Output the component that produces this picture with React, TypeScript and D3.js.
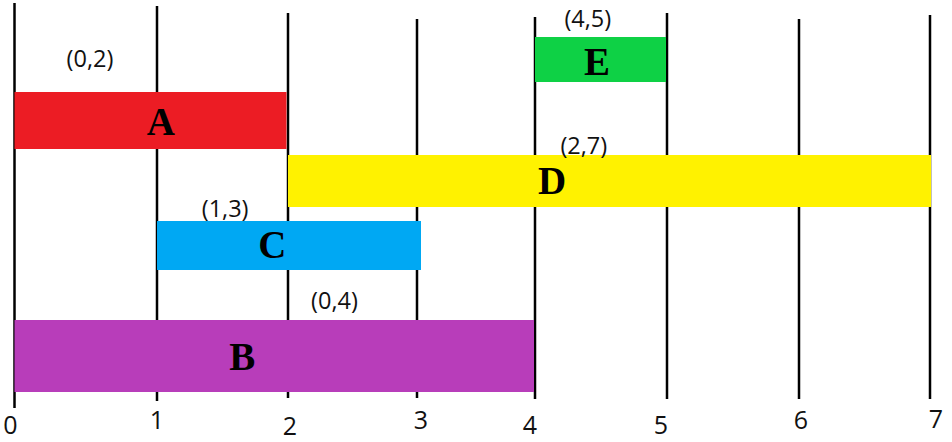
import { useEffect, useRef } from 'react'
import * as d3 from 'd3'

// Interval data
const names = ['A', 'B', 'C', 'D', 'E']
const starts = [0, 0, 1, 2, 4]
const ends = [2, 4, 3, 7, 5]
const colors = ['#EC1C24', '#B83DBA', '#00A8F3', '#FFF200', '#0ED145']
const ticks = [0, 1, 2, 3, 4, 5, 6, 7]

// Layout of the hand drawn picture
const gridX = [14.5, 157, 288, 417, 535, 667, 799, 930]
const gridTop = [3, 6, 13, 19, 17, 13, 19, 15]
const gridBottom = [408, 401, 398, 398, 399, 399, 399, 399]
const tickNudgeX = [-4, 0, 2, 4, -5, -6, 2, 6]
const tickBaseline = [434, 429, 435, 429, 434, 434, 429, 428]
const rowOrder = ['E', 'A', 'D', 'C', 'B']
const rowTop = [37, 92, 155, 221, 320]
const rowBottom = [82, 149, 207, 270, 392]
// bars are drawn a little past / short of their grid line
const endNudge = [-1.5, -1, 4, 1, -1]
// letter / pair label positions in axis units, pair label baseline offset above bar top
const letterAt = [1.03, 1.65, 1.88, 4.13, 4.47]
const letterDrop = [43, 50, 37, 39, 38]
const pairAt = [0.53, 2.36, 1.52, 4.37, 4.4]
const pairRise = [25, 11, 4, 1, 10]

export default function App() {
  const svgRef = useRef<SVGSVGElement>(null)

  useEffect(() => {
    document.body.style.margin = '0'
    if (!svgRef.current) return

    const width = 952
    const height = 442

    const svg = d3.select(svgRef.current)
    svg.selectAll('*').remove()
    svg.attr('width', width).attr('height', height)

    svg.append('rect').attr('width', width).attr('height', height).attr('fill', '#FFFFFF')

    const xScale = d3.scaleLinear().domain(ticks).range(gridX)
    const yTop = d3.scaleOrdinal<string, number>().domain(rowOrder).range(rowTop)
    const yBottom = d3.scaleOrdinal<string, number>().domain(rowOrder).range(rowBottom)

    const data = names.map((name, i) => ({
      name,
      start: starts[i],
      end: ends[i],
      color: colors[i],
      endNudge: endNudge[i],
      letterAt: letterAt[i],
      letterDrop: letterDrop[i],
      pairAt: pairAt[i],
      pairRise: pairRise[i]
    }))

    // Vertical grid lines (under the bars)
    svg.selectAll('.grid')
      .data(ticks)
      .enter()
      .append('line')
      .attr('class', 'grid')
      .attr('x1', d => xScale(d))
      .attr('x2', d => xScale(d))
      .attr('y1', (_, i) => gridTop[i])
      .attr('y2', (_, i) => gridBottom[i])
      .attr('stroke', '#000000')
      .attr('stroke-width', 2.5)

    // Bars
    svg.selectAll('.bar')
      .data(data)
      .enter()
      .append('rect')
      .attr('class', 'bar')
      .attr('x', d => xScale(d.start))
      .attr('y', d => yTop(d.name))
      .attr('width', d => xScale(d.end) - xScale(d.start) + d.endNudge)
      .attr('height', d => yBottom(d.name) - yTop(d.name))
      .attr('fill', d => d.color)

    // Tick labels
    svg.selectAll('.tick-label')
      .data(ticks)
      .enter()
      .append('text')
      .attr('class', 'tick-label')
      .attr('x', (d, i) => xScale(d) + tickNudgeX[i])
      .attr('y', (_, i) => tickBaseline[i])
      .attr('text-anchor', 'middle')
      .attr('font-family', '"Open Sans", "Noto Sans", sans-serif')
      .attr('font-size', 25)
      .attr('fill', '#111111')
      .text(d => String(d))

    // Bar letters
    svg.selectAll('.letter')
      .data(data)
      .enter()
      .append('text')
      .attr('class', 'letter')
      .attr('x', d => xScale(d.letterAt))
      .attr('y', d => yTop(d.name) + d.letterDrop)
      .attr('text-anchor', 'middle')
      .attr('font-family', '"Liberation Serif", "DejaVu Serif", serif')
      .attr('font-weight', 'bold')
      .attr('font-size', 39)
      .attr('fill', '#000000')
      .text(d => d.name)

    // Interval labels
    svg.selectAll('.pair')
      .data(data)
      .enter()
      .append('text')
      .attr('class', 'pair')
      .attr('x', d => xScale(d.pairAt))
      .attr('y', d => yTop(d.name) - d.pairRise)
      .attr('text-anchor', 'middle')
      .attr('font-family', '"Open Sans", "Noto Sans", sans-serif')
      .attr('font-size', 23.5)
      .attr('fill', '#111111')
      .text(d => `(${d.start},${d.end})`)
  }, [])

  return <svg ref={svgRef} style={{ display: 'block' }} />
}
